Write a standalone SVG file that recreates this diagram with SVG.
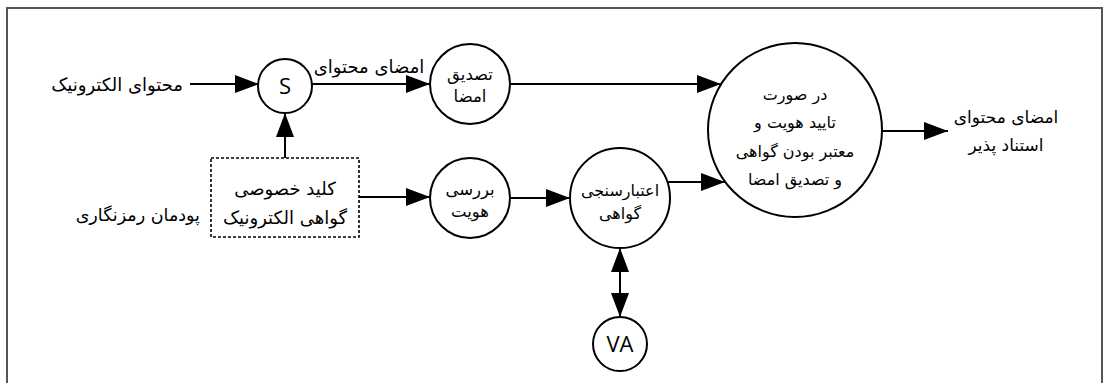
<svg xmlns="http://www.w3.org/2000/svg" width="1104" height="383" viewBox="0 0 1104 383">
  <style>
    .node { fill: #fff; stroke: #000; stroke-width: 2; }
    .box { fill: #fff; stroke: #000; stroke-width: 1.6; stroke-dasharray: 3 2; }
    .edge { fill: none; stroke: #000; stroke-width: 2; marker-end: url(#head); }
    .both { marker-start: url(#head); }
    .fa { font-family: "DejaVu Sans", sans-serif; font-size: 16px; fill: #000; text-anchor: middle; }
    .lg { font-size: 18px; }
    .sm { font-size: 16.5px; }
    .lat { font-family: "Open Sans", "DejaVu Sans", sans-serif; font-size: 22px; fill: #000; text-anchor: middle; }
  </style>
  <defs>
    <marker id="head" markerUnits="userSpaceOnUse" markerWidth="24" markerHeight="18" refX="24" refY="9" orient="auto-start-reverse" viewBox="0 0 24 18">
      <path d="M0,0 L24,9 L0,18 Z" fill="#000"/>
    </marker>
  </defs>

  <rect width="1104" height="383" fill="#fff"/>
  <!-- outer frame, open at the bottom -->
  <path d="M7,400 V8 H1102 V400" fill="none" stroke="#555" stroke-width="2"/>

  <g id="connectors">
    <line class="edge" x1="190" y1="84" x2="259" y2="84"/>
    <line class="edge" x1="311" y1="84" x2="430" y2="84"/>
    <line class="edge" x1="510" y1="84" x2="721" y2="84"/>
    <line class="edge" x1="285" y1="158" x2="285" y2="113"/>
    <line class="edge" x1="359" y1="197" x2="430" y2="197"/>
    <line class="edge" x1="510" y1="198" x2="570" y2="198"/>
    <line class="edge" x1="667" y1="182" x2="725" y2="182"/>
    <line class="edge" x1="882" y1="131" x2="948" y2="131"/>
    <line class="edge both" x1="620" y1="248" x2="620" y2="317"/>
  </g>

  <g id="label-content">
    <text class="fa lg" x="183" y="91" style="text-anchor:end">محتوای الکترونیک</text>
  </g>
  <g id="label-signed">
    <text class="fa lg" x="369" y="73">امضای محتوای</text>
  </g>
  <g id="label-module">
    <text class="fa" x="200" y="221" style="text-anchor:end;font-size:17.5px">پودمان رمزنگاری</text>
  </g>

  <g id="node-s">
    <circle class="node" cx="285" cy="86" r="27"/>
    <text class="lat" x="285" y="94">S</text>
  </g>
  <g id="node-verify-sig">
    <circle class="node" cx="470" cy="84" r="40"/>
    <text class="fa sm" x="470" y="80">تصدیق</text>
    <text class="fa sm" x="470" y="102">امضا</text>
  </g>
  <g id="node-key">
    <rect class="box" x="211" y="158" width="148" height="79"/>
    <text class="fa lg" x="285" y="195">کلید خصوصی</text>
    <text class="fa lg" x="285" y="224">گواهی الکترونیک</text>
  </g>
  <g id="node-identity">
    <circle class="node" cx="470" cy="198" r="40"/>
    <text class="fa sm" x="470" y="195">بررسی</text>
    <text class="fa sm" x="470" y="217">هویت</text>
  </g>
  <g id="node-cert">
    <circle class="node" cx="620" cy="198" r="50"/>
    <text class="fa" x="620" y="196">اعتبارسنجی</text>
    <text class="fa" x="620" y="219">گواهی</text>
  </g>
  <g id="node-va">
    <circle class="node" cx="620" cy="344" r="27"/>
    <text class="lat" x="620" y="352">VA</text>
  </g>
  <g id="node-decision">
    <circle class="node" cx="795" cy="130" r="87"/>
    <text class="fa" x="795" y="100">در صورت</text>
    <text class="fa" x="795" y="128">تایید هویت و</text>
    <text class="fa" x="795" y="157">معتبر بودن گواهی</text>
    <text class="fa" x="795" y="185">و تصدیق امضا</text>
  </g>
  <g id="label-output">
    <text class="fa" x="1006" y="123" style="font-size:17px">امضای محتوای</text>
    <text class="fa" x="1006" y="151" style="font-size:17px">استناد پذیر</text>
  </g>
</svg>
